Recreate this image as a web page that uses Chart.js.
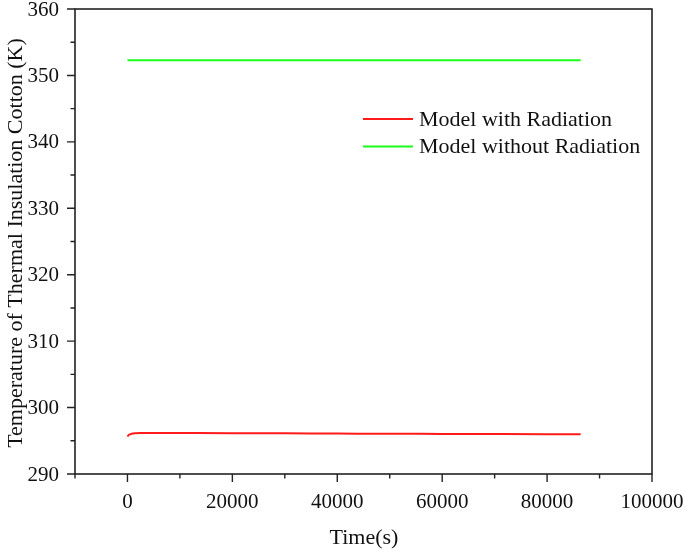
<!DOCTYPE html>
<html>
<head>
<meta charset="utf-8">
<script src="https://cdn.jsdelivr.net/npm/chart.js@4/dist/chart.umd.min.js"></script>
<style>
  html, body { margin: 0; padding: 0; background: #fff; }
  #wrap { width: 685px; height: 552px; position: relative; }
</style>
</head>
<body>
<div id="wrap"><canvas id="chart" width="685" height="552"></canvas></div>
<script>
// time (s) and temperatures (K)
const timeWith = [0, 300, 800, 1500, 2500, 5000, 10000, 20000, 30000, 40000, 50000, 60000, 70000, 80000, 86400];
const tempWith = [295.65, 295.9, 296.05, 296.13, 296.17, 296.18, 296.17, 296.15, 296.12, 296.09, 296.06, 296.04, 296.02, 296.0, 295.99];
const timeWithout = [0, 20000, 40000, 60000, 80000, 86400];
const tempWithout = [352.27, 352.27, 352.27, 352.27, 352.27, 352.27];
const seriesNames = ['Model with Radiation', 'Model without Radiation'];
const seriesColors = ['#ff1a1a', '#1aff1a'];
const xTickValues = [0, 20000, 40000, 60000, 80000, 100000];
const xMinorValues = [-10000, 10000, 30000, 50000, 70000, 90000];
const yTickValues = [290, 300, 310, 320, 330, 340, 350, 360];
const yMinorValues = [295, 305, 315, 325, 335, 345, 355];

const FONT = '"Liberation Serif", "Times New Roman", serif';
const AREA = { left: 75, right: 652, top: 9, bottom: 474 };

// frame, outward ticks, tick labels, legend and axis titles
const framePlugin = {
  id: 'frame',
  afterDraw(chart) {
    const ctx = chart.ctx;
    const x = chart.scales.x, y = chart.scales.y;
    const a = chart.chartArea;
    ctx.save();
    ctx.strokeStyle = '#222';
    ctx.lineWidth = 1.6;
    ctx.strokeRect(a.left, a.top, a.right - a.left, a.bottom - a.top);
    ctx.lineWidth = 1.4;
    ctx.beginPath();
    xTickValues.forEach(v => { const px = x.getPixelForValue(v); ctx.moveTo(px, a.bottom); ctx.lineTo(px, a.bottom + 8); });
    xMinorValues.forEach(v => { const px = x.getPixelForValue(v); ctx.moveTo(px, a.bottom); ctx.lineTo(px, a.bottom + 4.5); });
    yTickValues.forEach(v => { const py = y.getPixelForValue(v); ctx.moveTo(a.left, py); ctx.lineTo(a.left - 8, py); });
    yMinorValues.forEach(v => { const py = y.getPixelForValue(v); ctx.moveTo(a.left, py); ctx.lineTo(a.left - 4.5, py); });
    ctx.stroke();

    ctx.fillStyle = '#111';
    ctx.font = '21px ' + FONT;
    ctx.textBaseline = 'middle';
    ctx.textAlign = 'center';
    xTickValues.forEach(v => ctx.fillText(String(v), x.getPixelForValue(v), a.bottom + 28));
    ctx.textAlign = 'right';
    yTickValues.forEach(v => ctx.fillText(String(v), a.left - 16, y.getPixelForValue(v) + 1));

    // legend
    ctx.font = '22px ' + FONT;
    ctx.textAlign = 'left';
    chart.data.datasets.forEach((ds, i) => {
      const ly = 119 + i * 27.5;
      ctx.strokeStyle = ds.borderColor;
      ctx.lineWidth = 2;
      ctx.beginPath();
      ctx.moveTo(363, ly);
      ctx.lineTo(413, ly);
      ctx.stroke();
      ctx.fillText(ds.label, 419, ly + 1);
    });

    // axis titles
    ctx.textAlign = 'center';
    ctx.fillText('Time(s)', 364, 538);
    ctx.translate(16, 243);
    ctx.rotate(-Math.PI / 2);
    ctx.fillText('Temperature of Thermal Insulation Cotton (K)', 0, 0);
    ctx.restore();
  }
};

new Chart(document.getElementById('chart'), {
  type: 'line',
  data: {
    datasets: [
      {
        label: seriesNames[0],
        data: timeWith.map((t, i) => ({ x: t, y: tempWith[i] })),
        borderColor: seriesColors[0],
        borderWidth: 2,
        pointRadius: 0,
        cubicInterpolationMode: 'monotone'
      },
      {
        label: seriesNames[1],
        data: timeWithout.map((t, i) => ({ x: t, y: tempWithout[i] })),
        borderColor: seriesColors[1],
        borderWidth: 2,
        pointRadius: 0
      }
    ]
  },
  options: {
    responsive: false,
    animation: false,
    layout: { padding: { left: AREA.left, right: 685 - AREA.right, top: AREA.top, bottom: 552 - AREA.bottom } },
    plugins: { legend: { display: false }, tooltip: { enabled: false } },
    scales: {
      x: { type: 'linear', min: -10000, max: 100000, display: false },
      y: { type: 'linear', min: 290, max: 360, display: false }
    }
  },
  plugins: [framePlugin]
});
</script>
</body>
</html>
